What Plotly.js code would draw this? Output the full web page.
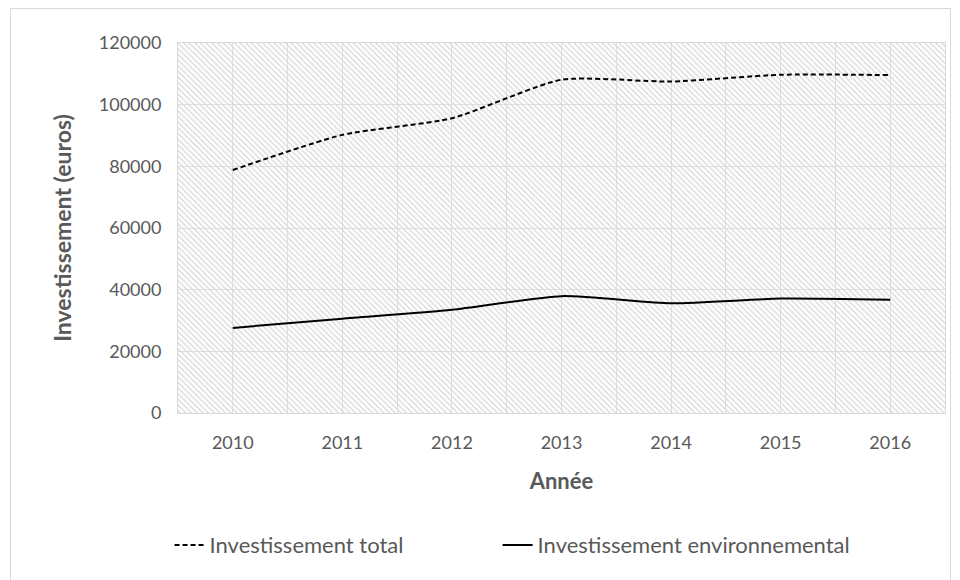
<!DOCTYPE html>
<html>
<head>
<meta charset="utf-8">
<script src="https://cdn.plot.ly/plotly-3.0.1.min.js"></script>
<style>
  html, body { margin: 0; padding: 0; background: #ffffff; }
  #chart { position: absolute; left: 0; top: 0; width: 960px; height: 580px; }
  #frame { position: absolute; left: 10px; top: 8px; width: 941px; height: 580px; border: 1px solid #d9d9d9; border-bottom: none; pointer-events: none; box-sizing: border-box; }
</style>
</head>
<body>
<div id="chart"></div>
<div id="frame"></div>
<script>
// Data
const years = [2010, 2011, 2012, 2013, 2014, 2015, 2016];
const investTotal = [78800, 90200, 95600, 108100, 107500, 109700, 109600];
const investEnv = [27600, 30600, 33500, 37900, 35600, 37100, 36700];
const tickLabels = ['2010', '2011', '2012', '2013', '2014', '2015', '2016'];
const seriesNames = ['Investissement total', 'Investissement environnemental'];
const xRange = [2009.5, 2016.5];
const yRange = [0, 120000];
const halfSteps = [2009.5, 2010.5, 2011.5, 2012.5, 2013.5, 2014.5, 2015.5, 2016.5];

const font = 'Lato, "Liberation Sans", sans-serif';
const grey = '#595959';

const background = {
  x: [xRange[0], xRange[1], xRange[1], xRange[0], xRange[0]],
  y: [yRange[0], yRange[0], yRange[1], yRange[1], yRange[0]],
  type: 'scatter', mode: 'lines', fill: 'toself',
  line: { width: 0 },
  fillcolor: 'rgba(0,0,0,0)',
  fillpattern: { shape: '\\', fgcolor: '#d6d6d6', size: 4, solidity: 0.3 },
  showlegend: false, hoverinfo: 'skip'
};

const traces = [
  background,
  {
    x: years, y: investTotal, name: seriesNames[0], legend: 'legend',
    type: 'scatter', mode: 'lines',
    line: { color: '#000000', width: 2, dash: '5px,3px', shape: 'spline', smoothing: 0.6 }
  },
  {
    x: years, y: investEnv, name: seriesNames[1], legend: 'legend2',
    type: 'scatter', mode: 'lines',
    line: { color: '#000000', width: 2, shape: 'spline', smoothing: 0.6 }
  }
];

const legendFont = { family: font, size: 22, color: grey };

const layout = {
  width: 960, height: 580,
  margin: { l: 178, r: 15, t: 43, b: 167 },
  paper_bgcolor: '#ffffff', plot_bgcolor: '#ffffff',
  font: { family: font, color: grey, size: 18 },
  showlegend: true,
  legend: {
    orientation: 'h', x: -0.011, xanchor: 'left', y: -0.357, yanchor: 'middle',
    font: legendFont, bgcolor: 'rgba(0,0,0,0)'
  },
  legend2: {
    orientation: 'h', x: 0.4167, xanchor: 'left', y: -0.357, yanchor: 'middle',
    font: legendFont, bgcolor: 'rgba(0,0,0,0)'
  },
  xaxis: {
    range: xRange, tickmode: 'array', tickvals: years, ticktext: tickLabels,
    showgrid: true, gridcolor: '#e0e0e0', gridwidth: 1,
    minor: { tickmode: 'array', tickvals: halfSteps, showgrid: true, gridcolor: '#e0e0e0', gridwidth: 1 },
    showline: true, mirror: true, linecolor: '#d9d9d9', linewidth: 1,
    ticks: '', ticklabelstandoff: 13, zeroline: false,
    tickfont: { family: font, size: 18, color: grey },
    title: { text: '<b>Année</b>', standoff: 22, font: { family: font, size: 22, color: grey } },
    fixedrange: true
  },
  yaxis: {
    range: yRange, dtick: 20000, tick0: 0,
    showgrid: true, gridcolor: '#e0e0e0', gridwidth: 1,
    showline: true, mirror: true, linecolor: '#d9d9d9', linewidth: 1,
    ticks: '', ticklabelstandoff: 12, zeroline: false,
    tickformat: 'd',
    tickfont: { family: font, size: 18, color: grey },
    title: { text: '<b>Investissement (euros)</b>', standoff: 20, font: { family: font, size: 23, color: grey } },
    fixedrange: true
  }
};

Plotly.newPlot('chart', traces, layout, { displayModeBar: false, staticPlot: true });
</script>
</body>
</html>
